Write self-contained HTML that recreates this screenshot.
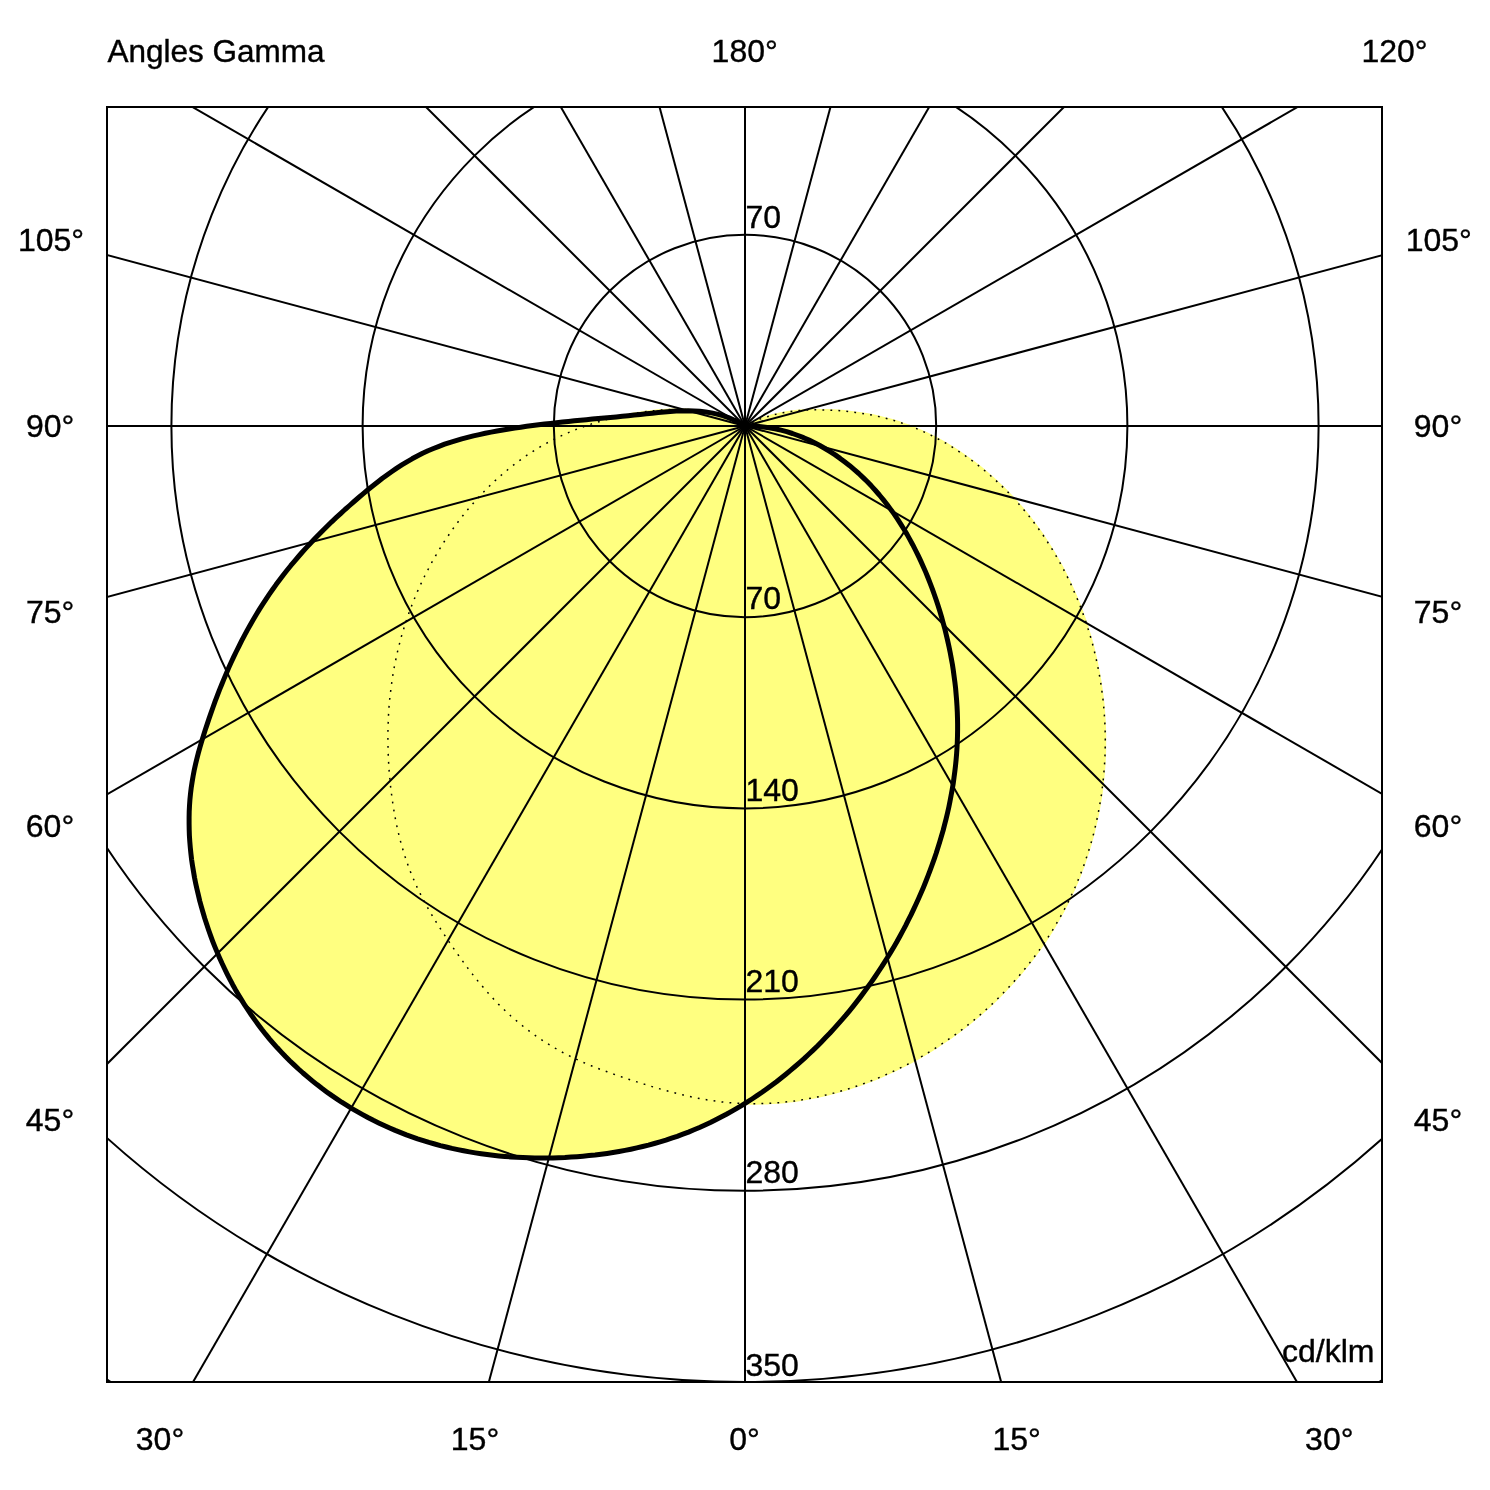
<!DOCTYPE html><html><head><meta charset="utf-8"><style>html,body{margin:0;padding:0;background:#fff;overflow:hidden;width:1490px;height:1490px}svg{display:block;will-change:transform}text{font-family:"Liberation Sans",sans-serif;font-size:32px;fill:#000;stroke:#000;stroke-width:0.4px}</style></head><body>
<svg width="1490" height="1490" viewBox="0 0 1490 1490">
<defs><clipPath id="c"><rect x="107" y="107" width="1275" height="1275"/></clipPath></defs>
<g clip-path="url(#c)">
<path d="M745.0 426.0 L750.1 423.4 L755.3 421.0 L760.5 418.9 L765.8 417.1 L771.2 415.5 L776.6 414.1 L782.1 412.9 L787.6 412.0 L793.2 411.2 L798.8 410.6 L804.4 410.2 L810.0 409.9 L815.6 409.8 L821.3 409.9 L827.0 410.0 L832.7 410.3 L838.3 410.6 L844.0 411.1 L849.6 411.7 L855.3 412.4 L860.9 413.2 L866.5 414.1 L872.1 415.1 L877.6 416.3 L883.1 417.6 L888.6 419.0 L894.0 420.5 L899.4 422.2 L904.8 424.1 L910.1 426.0 L915.3 428.1 L920.5 430.4 L925.7 432.7 L930.8 435.2 L935.8 437.7 L940.8 440.4 L945.8 443.2 L950.6 446.1 L955.4 449.2 L960.2 452.3 L964.9 455.5 L969.5 458.8 L974.0 462.1 L978.5 465.6 L982.9 469.1 L987.2 472.8 L991.5 476.5 L995.7 480.3 L999.8 484.1 L1003.8 488.0 L1007.8 492.0 L1011.7 496.1 L1015.5 500.2 L1019.2 504.4 L1022.9 508.7 L1026.5 513.0 L1030.0 517.4 L1033.4 521.8 L1036.8 526.4 L1040.1 530.9 L1043.3 535.5 L1046.4 540.2 L1049.4 545.0 L1052.4 549.7 L1055.3 554.6 L1058.1 559.4 L1060.9 564.4 L1063.5 569.3 L1066.1 574.4 L1068.6 579.4 L1071.0 584.5 L1073.3 589.7 L1075.6 594.9 L1077.8 600.1 L1079.9 605.3 L1081.9 610.6 L1083.8 615.9 L1085.7 621.3 L1087.4 626.7 L1089.1 632.1 L1090.7 637.5 L1092.3 643.0 L1093.7 648.5 L1095.0 654.0 L1096.3 659.5 L1097.5 665.1 L1098.6 670.7 L1099.6 676.2 L1100.6 681.9 L1101.4 687.5 L1102.2 693.1 L1102.9 698.7 L1103.5 704.4 L1104.0 710.0 L1104.4 715.7 L1104.8 721.4 L1105.0 727.1 L1105.2 732.7 L1105.3 738.4 L1105.2 744.1 L1105.2 749.8 L1105.0 755.4 L1104.7 761.1 L1104.4 766.8 L1103.9 772.4 L1103.4 778.1 L1102.8 783.7 L1102.1 789.3 L1101.4 794.9 L1100.5 800.5 L1099.5 806.1 L1098.5 811.7 L1097.4 817.2 L1096.2 822.8 L1094.9 828.3 L1093.6 833.7 L1092.1 839.2 L1090.6 844.6 L1088.9 850.0 L1087.2 855.4 L1085.4 860.7 L1083.6 866.1 L1081.6 871.3 L1079.6 876.6 L1077.4 881.8 L1075.2 887.0 L1072.9 892.1 L1070.5 897.2 L1068.1 902.2 L1065.5 907.3 L1062.9 912.2 L1060.2 917.1 L1057.4 922.0 L1054.5 926.9 L1051.6 931.7 L1048.6 936.4 L1045.5 941.1 L1042.3 945.7 L1039.1 950.4 L1035.8 954.9 L1032.4 959.4 L1028.9 963.9 L1025.4 968.2 L1021.8 972.6 L1018.1 976.9 L1014.4 981.1 L1010.6 985.3 L1006.8 989.4 L1002.8 993.5 L998.9 997.5 L994.8 1001.5 L990.7 1005.4 L986.5 1009.2 L982.3 1013.0 L978.0 1016.7 L973.7 1020.3 L969.3 1023.9 L964.8 1027.4 L960.3 1030.9 L955.7 1034.3 L951.1 1037.6 L946.5 1040.8 L941.7 1044.0 L937.0 1047.1 L932.2 1050.2 L927.3 1053.2 L922.4 1056.1 L917.5 1058.9 L912.5 1061.6 L907.5 1064.3 L902.4 1066.9 L897.3 1069.4 L892.2 1071.9 L887.0 1074.2 L881.8 1076.5 L876.6 1078.7 L871.3 1080.8 L866.0 1082.8 L860.7 1084.7 L855.3 1086.6 L850.0 1088.4 L844.6 1090.0 L839.1 1091.6 L833.7 1093.1 L828.2 1094.5 L822.7 1095.8 L817.2 1097.0 L811.7 1098.1 L806.2 1099.1 L800.7 1100.0 L795.1 1100.9 L789.5 1101.6 L784.0 1102.2 L778.4 1102.7 L772.8 1103.1 L767.2 1103.4 L761.6 1103.6 L756.0 1103.7 L750.4 1103.7 L744.8 1103.6 L739.1 1103.3 L733.5 1103.0 L727.9 1102.5 L722.4 1102.0 L716.8 1101.3 L711.2 1100.5 L705.6 1099.6 L700.0 1098.6 L694.5 1097.5 L688.9 1096.3 L683.4 1095.0 L677.9 1093.7 L672.4 1092.3 L666.8 1090.8 L661.3 1089.3 L655.9 1087.7 L650.4 1086.1 L644.9 1084.4 L639.5 1082.7 L634.0 1081.0 L628.6 1079.2 L623.2 1077.4 L617.8 1075.6 L612.5 1073.7 L607.1 1071.8 L601.8 1069.9 L596.5 1067.9 L591.3 1065.8 L586.1 1063.6 L580.9 1061.4 L575.8 1059.0 L570.8 1056.6 L565.8 1054.1 L560.8 1051.4 L556.0 1048.7 L551.1 1045.8 L546.4 1042.9 L541.7 1039.8 L537.0 1036.7 L532.5 1033.4 L528.0 1030.1 L523.5 1026.6 L519.2 1023.1 L514.9 1019.5 L510.6 1015.7 L506.5 1011.9 L502.4 1008.0 L498.4 1004.1 L494.5 1000.0 L490.6 995.8 L486.9 991.6 L483.2 987.3 L479.5 983.0 L475.9 978.6 L472.4 974.1 L468.9 969.6 L465.5 965.0 L462.1 960.4 L458.8 955.8 L455.5 951.1 L452.3 946.5 L449.1 941.8 L445.9 937.1 L442.7 932.3 L439.7 927.6 L436.6 922.8 L433.7 918.0 L430.8 913.2 L428.0 908.3 L425.2 903.4 L422.6 898.4 L420.1 893.4 L417.6 888.4 L415.3 883.3 L413.1 878.1 L410.9 872.9 L408.9 867.7 L407.0 862.4 L405.2 857.1 L403.5 851.7 L401.9 846.3 L400.4 840.9 L399.0 835.4 L397.7 829.9 L396.5 824.4 L395.4 818.8 L394.4 813.2 L393.4 807.6 L392.6 802.0 L391.8 796.3 L391.1 790.7 L390.4 785.0 L389.9 779.4 L389.4 773.7 L388.9 768.1 L388.6 762.4 L388.3 756.7 L388.1 751.1 L388.0 745.4 L387.9 739.8 L387.9 734.1 L388.0 728.5 L388.2 722.8 L388.4 717.2 L388.7 711.6 L389.1 705.9 L389.6 700.3 L390.2 694.7 L390.9 689.1 L391.6 683.6 L392.4 678.0 L393.3 672.4 L394.3 666.9 L395.4 661.4 L396.6 655.9 L397.8 650.4 L399.2 644.9 L400.6 639.4 L402.1 634.0 L403.8 628.6 L405.5 623.2 L407.3 617.8 L409.1 612.5 L411.1 607.2 L413.2 601.9 L415.3 596.6 L417.5 591.4 L419.8 586.3 L422.2 581.1 L424.7 576.0 L427.3 571.0 L429.9 565.9 L432.6 561.0 L435.5 556.0 L438.3 551.1 L441.3 546.3 L444.3 541.5 L447.5 536.8 L450.7 532.1 L453.9 527.5 L457.3 522.9 L460.7 518.4 L464.2 514.0 L467.8 509.6 L471.5 505.3 L475.2 501.0 L479.0 496.8 L482.9 492.7 L486.8 488.7 L490.9 484.7 L494.9 480.9 L499.1 477.1 L503.3 473.4 L507.7 469.7 L512.0 466.2 L516.5 462.8 L521.0 459.4 L525.6 456.2 L530.3 453.1 L535.0 450.0 L539.8 447.1 L544.6 444.3 L549.6 441.6 L554.6 439.0 L559.6 436.6 L564.8 434.2 L569.9 432.0 L575.2 429.8 L580.4 427.8 L585.8 425.9 L591.1 424.1 L596.6 422.4 L602.0 420.8 L607.5 419.3 L613.0 417.9 L618.5 416.6 L624.1 415.4 L629.7 414.3 L635.3 413.3 L640.9 412.4 L646.5 411.6 L652.2 410.9 L657.8 410.3 L663.4 409.9 L669.1 409.6 L674.7 409.4 L680.3 409.4 L685.9 409.6 L691.5 409.9 L697.0 410.5 L702.5 411.2 L708.0 412.2 L713.4 413.4 L718.8 414.8 L724.2 416.5 L729.5 418.5 L734.7 420.7 L739.9 423.2 L745.0 426.0 Z" fill="#FFFF80" stroke="#FFFF80" stroke-width="2"/>
<path d="M745.0 426.0 L739.5 422.8 L734.0 420.0 L728.4 417.6 L722.8 415.7 L717.1 414.1 L711.4 412.9 L705.6 412.0 L699.8 411.3 L693.9 411.0 L688.0 410.8 L682.1 410.9 L676.2 411.1 L670.2 411.5 L664.3 412.0 L658.3 412.6 L652.3 413.2 L646.3 413.8 L640.3 414.5 L634.3 415.1 L628.3 415.7 L622.3 416.3 L616.3 416.9 L610.3 417.5 L604.3 418.0 L598.3 418.6 L592.3 419.1 L586.4 419.7 L580.4 420.3 L574.4 420.8 L568.4 421.4 L562.5 422.1 L556.5 422.7 L550.5 423.4 L544.6 424.0 L538.6 424.8 L532.7 425.5 L526.7 426.3 L520.8 427.2 L514.8 428.1 L508.9 429.0 L502.9 430.0 L497.0 431.0 L491.1 432.1 L485.2 433.3 L479.3 434.6 L473.4 435.9 L467.6 437.4 L461.8 438.9 L456.0 440.6 L450.3 442.3 L444.6 444.2 L439.0 446.3 L433.5 448.5 L428.0 450.8 L422.6 453.3 L417.3 456.0 L412.1 458.8 L406.9 461.8 L401.8 464.9 L396.8 468.1 L391.9 471.5 L387.0 475.0 L382.1 478.5 L377.4 482.2 L372.6 486.0 L367.9 489.8 L363.3 493.6 L358.7 497.5 L354.1 501.5 L349.6 505.5 L345.0 509.5 L340.6 513.6 L336.1 517.7 L331.7 521.8 L327.4 526.0 L323.1 530.2 L318.9 534.5 L314.7 538.8 L310.5 543.2 L306.4 547.6 L302.4 552.0 L298.5 556.5 L294.6 561.1 L290.7 565.7 L287.0 570.3 L283.3 575.0 L279.7 579.8 L276.1 584.6 L272.6 589.5 L269.2 594.4 L265.9 599.4 L262.6 604.4 L259.4 609.4 L256.3 614.5 L253.2 619.7 L250.2 624.9 L247.3 630.1 L244.5 635.4 L241.7 640.7 L239.0 646.1 L236.3 651.5 L233.7 656.9 L231.2 662.3 L228.7 667.8 L226.3 673.4 L224.0 678.9 L221.7 684.5 L219.4 690.1 L217.3 695.7 L215.1 701.3 L213.1 707.0 L211.1 712.7 L209.1 718.4 L207.2 724.1 L205.3 729.8 L203.5 735.6 L201.7 741.3 L200.0 747.1 L198.4 752.8 L196.9 758.6 L195.5 764.4 L194.2 770.3 L193.1 776.1 L192.1 782.0 L191.2 787.9 L190.5 793.8 L189.9 799.8 L189.5 805.7 L189.2 811.7 L189.1 817.7 L189.1 823.6 L189.2 829.6 L189.4 835.6 L189.8 841.6 L190.3 847.6 L190.9 853.6 L191.6 859.6 L192.5 865.6 L193.5 871.5 L194.5 877.5 L195.7 883.4 L197.0 889.3 L198.4 895.2 L199.8 901.1 L201.4 906.9 L203.1 912.7 L204.8 918.5 L206.7 924.3 L208.6 930.0 L210.6 935.6 L212.7 941.3 L214.9 946.9 L217.2 952.4 L219.6 957.9 L222.0 963.3 L224.6 968.8 L227.2 974.1 L229.9 979.4 L232.7 984.7 L235.6 989.9 L238.6 995.0 L241.7 1000.1 L244.8 1005.2 L248.1 1010.2 L251.4 1015.1 L254.8 1019.9 L258.3 1024.7 L261.9 1029.5 L265.6 1034.2 L269.4 1038.8 L273.3 1043.3 L277.3 1047.8 L281.3 1052.1 L285.5 1056.5 L289.7 1060.7 L294.1 1064.9 L298.5 1069.0 L303.0 1073.0 L307.6 1076.9 L312.3 1080.8 L317.0 1084.6 L321.8 1088.3 L326.7 1091.9 L331.6 1095.4 L336.7 1098.8 L341.7 1102.2 L346.9 1105.4 L352.0 1108.6 L357.3 1111.6 L362.6 1114.6 L367.9 1117.5 L373.3 1120.3 L378.7 1122.9 L384.2 1125.5 L389.7 1128.0 L395.2 1130.4 L400.8 1132.6 L406.4 1134.8 L412.0 1136.8 L417.6 1138.8 L423.3 1140.6 L429.0 1142.4 L434.7 1144.0 L440.4 1145.6 L446.2 1147.0 L452.0 1148.4 L457.8 1149.6 L463.6 1150.8 L469.5 1151.9 L475.3 1152.9 L481.2 1153.8 L487.1 1154.6 L493.0 1155.3 L498.9 1155.9 L504.9 1156.4 L510.8 1156.9 L516.8 1157.3 L522.8 1157.6 L528.8 1157.8 L534.8 1157.9 L540.8 1158.0 L546.8 1158.0 L552.8 1157.9 L558.9 1157.7 L564.9 1157.5 L571.0 1157.1 L577.0 1156.7 L583.0 1156.2 L589.0 1155.6 L595.1 1155.0 L601.1 1154.2 L607.1 1153.4 L613.0 1152.5 L619.0 1151.5 L625.0 1150.4 L630.9 1149.2 L636.8 1147.9 L642.7 1146.5 L648.5 1145.1 L654.3 1143.5 L660.1 1141.8 L665.9 1140.1 L671.6 1138.2 L677.2 1136.3 L682.9 1134.2 L688.5 1132.1 L694.0 1129.8 L699.5 1127.5 L705.0 1125.0 L710.4 1122.5 L715.8 1119.8 L721.1 1117.1 L726.4 1114.3 L731.6 1111.4 L736.8 1108.4 L741.9 1105.4 L747.0 1102.2 L752.0 1099.0 L757.0 1095.7 L762.0 1092.3 L766.9 1088.8 L771.7 1085.3 L776.5 1081.7 L781.2 1078.0 L785.9 1074.2 L790.5 1070.4 L795.1 1066.5 L799.6 1062.6 L804.1 1058.6 L808.5 1054.5 L812.9 1050.4 L817.2 1046.2 L821.4 1041.9 L825.6 1037.6 L829.8 1033.3 L833.8 1028.9 L837.8 1024.4 L841.8 1019.9 L845.7 1015.4 L849.5 1010.8 L853.3 1006.1 L857.0 1001.4 L860.7 996.6 L864.3 991.8 L867.8 987.0 L871.3 982.1 L874.7 977.2 L878.1 972.2 L881.4 967.2 L884.6 962.1 L887.8 957.0 L890.9 951.9 L894.0 946.7 L897.0 941.5 L899.9 936.2 L902.8 930.9 L905.6 925.6 L908.3 920.2 L911.0 914.9 L913.6 909.4 L916.1 904.0 L918.6 898.5 L921.0 893.0 L923.4 887.4 L925.7 881.8 L927.9 876.2 L930.0 870.6 L932.1 864.9 L934.1 859.3 L936.1 853.5 L937.9 847.8 L939.7 842.1 L941.4 836.3 L943.1 830.5 L944.6 824.7 L946.1 818.9 L947.5 813.0 L948.8 807.2 L950.0 801.3 L951.1 795.4 L952.2 789.5 L953.2 783.6 L954.0 777.7 L954.8 771.7 L955.5 765.8 L956.1 759.8 L956.6 753.9 L957.0 747.9 L957.3 741.9 L957.5 736.0 L957.6 730.0 L957.6 724.0 L957.5 718.1 L957.3 712.1 L957.0 706.1 L956.6 700.1 L956.1 694.2 L955.6 688.2 L954.9 682.3 L954.1 676.3 L953.3 670.4 L952.4 664.4 L951.3 658.5 L950.2 652.6 L949.0 646.7 L947.7 640.9 L946.3 635.0 L944.9 629.2 L943.3 623.3 L941.7 617.5 L940.0 611.7 L938.2 606.0 L936.3 600.2 L934.3 594.5 L932.3 588.8 L930.1 583.1 L927.9 577.5 L925.6 571.9 L923.2 566.4 L920.7 560.9 L918.1 555.4 L915.4 550.0 L912.7 544.7 L909.8 539.4 L906.9 534.1 L903.8 529.0 L900.6 523.9 L897.4 518.9 L894.0 513.9 L890.5 509.1 L886.9 504.3 L883.2 499.6 L879.4 495.0 L875.5 490.5 L871.5 486.1 L867.4 481.8 L863.1 477.6 L858.8 473.5 L854.3 469.6 L849.7 465.7 L844.9 462.0 L840.1 458.4 L835.2 454.9 L830.1 451.6 L825.0 448.5 L819.8 445.5 L814.5 442.7 L809.1 440.1 L803.6 437.7 L798.0 435.5 L792.4 433.5 L786.7 431.7 L780.9 430.2 L775.0 428.8 L769.1 427.7 L763.2 426.9 L757.2 426.3 L751.1 426.0 L745.0 426.0 Z" fill="#FFFF80"/>
<g fill="none" stroke="#000" stroke-width="2">
<circle cx="745" cy="426" r="191.2"/>
<circle cx="745" cy="426" r="382.4"/>
<circle cx="745" cy="426" r="573.6"/>
<circle cx="745" cy="426" r="764.8"/>
<circle cx="745" cy="426" r="956"/>
<circle cx="745" cy="426" r="1147.2"/>
<line x1="745" y1="426" x2="745.0" y2="2026.0"/>
<line x1="745" y1="426" x2="1159.1" y2="1971.5"/>
<line x1="745" y1="426" x2="1545.0" y2="1811.6"/>
<line x1="745" y1="426" x2="1876.4" y2="1557.4"/>
<line x1="745" y1="426" x2="2130.6" y2="1226.0"/>
<line x1="745" y1="426" x2="2290.5" y2="840.1"/>
<line x1="745" y1="426" x2="2345.0" y2="426.0"/>
<line x1="745" y1="426" x2="2290.5" y2="11.9"/>
<line x1="745" y1="426" x2="2130.6" y2="-374.0"/>
<line x1="745" y1="426" x2="1876.4" y2="-705.4"/>
<line x1="745" y1="426" x2="1545.0" y2="-959.6"/>
<line x1="745" y1="426" x2="1159.1" y2="-1119.5"/>
<line x1="745" y1="426" x2="745.0" y2="-1174.0"/>
<line x1="745" y1="426" x2="330.9" y2="-1119.5"/>
<line x1="745" y1="426" x2="-55.0" y2="-959.6"/>
<line x1="745" y1="426" x2="-386.4" y2="-705.4"/>
<line x1="745" y1="426" x2="-640.6" y2="-374.0"/>
<line x1="745" y1="426" x2="-800.5" y2="11.9"/>
<line x1="745" y1="426" x2="-855.0" y2="426.0"/>
<line x1="745" y1="426" x2="-800.5" y2="840.1"/>
<line x1="745" y1="426" x2="-640.6" y2="1226.0"/>
<line x1="745" y1="426" x2="-386.4" y2="1557.4"/>
<line x1="745" y1="426" x2="-55.0" y2="1811.6"/>
<line x1="745" y1="426" x2="330.9" y2="1971.5"/>
</g>
<path d="M745.0 426.0 L750.1 423.4 L755.3 421.0 L760.5 418.9 L765.8 417.1 L771.2 415.5 L776.6 414.1 L782.1 412.9 L787.6 412.0 L793.2 411.2 L798.8 410.6 L804.4 410.2 L810.0 409.9 L815.6 409.8 L821.3 409.9 L827.0 410.0 L832.7 410.3 L838.3 410.6 L844.0 411.1 L849.6 411.7 L855.3 412.4 L860.9 413.2 L866.5 414.1 L872.1 415.1 L877.6 416.3 L883.1 417.6 L888.6 419.0 L894.0 420.5 L899.4 422.2 L904.8 424.1 L910.1 426.0 L915.3 428.1 L920.5 430.4 L925.7 432.7 L930.8 435.2 L935.8 437.7 L940.8 440.4 L945.8 443.2 L950.6 446.1 L955.4 449.2 L960.2 452.3 L964.9 455.5 L969.5 458.8 L974.0 462.1 L978.5 465.6 L982.9 469.1 L987.2 472.8 L991.5 476.5 L995.7 480.3 L999.8 484.1 L1003.8 488.0 L1007.8 492.0 L1011.7 496.1 L1015.5 500.2 L1019.2 504.4 L1022.9 508.7 L1026.5 513.0 L1030.0 517.4 L1033.4 521.8 L1036.8 526.4 L1040.1 530.9 L1043.3 535.5 L1046.4 540.2 L1049.4 545.0 L1052.4 549.7 L1055.3 554.6 L1058.1 559.4 L1060.9 564.4 L1063.5 569.3 L1066.1 574.4 L1068.6 579.4 L1071.0 584.5 L1073.3 589.7 L1075.6 594.9 L1077.8 600.1 L1079.9 605.3 L1081.9 610.6 L1083.8 615.9 L1085.7 621.3 L1087.4 626.7 L1089.1 632.1 L1090.7 637.5 L1092.3 643.0 L1093.7 648.5 L1095.0 654.0 L1096.3 659.5 L1097.5 665.1 L1098.6 670.7 L1099.6 676.2 L1100.6 681.9 L1101.4 687.5 L1102.2 693.1 L1102.9 698.7 L1103.5 704.4 L1104.0 710.0 L1104.4 715.7 L1104.8 721.4 L1105.0 727.1 L1105.2 732.7 L1105.3 738.4 L1105.2 744.1 L1105.2 749.8 L1105.0 755.4 L1104.7 761.1 L1104.4 766.8 L1103.9 772.4 L1103.4 778.1 L1102.8 783.7 L1102.1 789.3 L1101.4 794.9 L1100.5 800.5 L1099.5 806.1 L1098.5 811.7 L1097.4 817.2 L1096.2 822.8 L1094.9 828.3 L1093.6 833.7 L1092.1 839.2 L1090.6 844.6 L1088.9 850.0 L1087.2 855.4 L1085.4 860.7 L1083.6 866.1 L1081.6 871.3 L1079.6 876.6 L1077.4 881.8 L1075.2 887.0 L1072.9 892.1 L1070.5 897.2 L1068.1 902.2 L1065.5 907.3 L1062.9 912.2 L1060.2 917.1 L1057.4 922.0 L1054.5 926.9 L1051.6 931.7 L1048.6 936.4 L1045.5 941.1 L1042.3 945.7 L1039.1 950.4 L1035.8 954.9 L1032.4 959.4 L1028.9 963.9 L1025.4 968.2 L1021.8 972.6 L1018.1 976.9 L1014.4 981.1 L1010.6 985.3 L1006.8 989.4 L1002.8 993.5 L998.9 997.5 L994.8 1001.5 L990.7 1005.4 L986.5 1009.2 L982.3 1013.0 L978.0 1016.7 L973.7 1020.3 L969.3 1023.9 L964.8 1027.4 L960.3 1030.9 L955.7 1034.3 L951.1 1037.6 L946.5 1040.8 L941.7 1044.0 L937.0 1047.1 L932.2 1050.2 L927.3 1053.2 L922.4 1056.1 L917.5 1058.9 L912.5 1061.6 L907.5 1064.3 L902.4 1066.9 L897.3 1069.4 L892.2 1071.9 L887.0 1074.2 L881.8 1076.5 L876.6 1078.7 L871.3 1080.8 L866.0 1082.8 L860.7 1084.7 L855.3 1086.6 L850.0 1088.4 L844.6 1090.0 L839.1 1091.6 L833.7 1093.1 L828.2 1094.5 L822.7 1095.8 L817.2 1097.0 L811.7 1098.1 L806.2 1099.1 L800.7 1100.0 L795.1 1100.9 L789.5 1101.6 L784.0 1102.2 L778.4 1102.7 L772.8 1103.1 L767.2 1103.4 L761.6 1103.6 L756.0 1103.7 L750.4 1103.7 L744.8 1103.6 L739.1 1103.3 L733.5 1103.0 L727.9 1102.5 L722.4 1102.0 L716.8 1101.3 L711.2 1100.5 L705.6 1099.6 L700.0 1098.6 L694.5 1097.5 L688.9 1096.3 L683.4 1095.0 L677.9 1093.7 L672.4 1092.3 L666.8 1090.8 L661.3 1089.3 L655.9 1087.7 L650.4 1086.1 L644.9 1084.4 L639.5 1082.7 L634.0 1081.0 L628.6 1079.2 L623.2 1077.4 L617.8 1075.6 L612.5 1073.7 L607.1 1071.8 L601.8 1069.9 L596.5 1067.9 L591.3 1065.8 L586.1 1063.6 L580.9 1061.4 L575.8 1059.0 L570.8 1056.6 L565.8 1054.1 L560.8 1051.4 L556.0 1048.7 L551.1 1045.8 L546.4 1042.9 L541.7 1039.8 L537.0 1036.7 L532.5 1033.4 L528.0 1030.1 L523.5 1026.6 L519.2 1023.1 L514.9 1019.5 L510.6 1015.7 L506.5 1011.9 L502.4 1008.0 L498.4 1004.1 L494.5 1000.0 L490.6 995.8 L486.9 991.6 L483.2 987.3 L479.5 983.0 L475.9 978.6 L472.4 974.1 L468.9 969.6 L465.5 965.0 L462.1 960.4 L458.8 955.8 L455.5 951.1 L452.3 946.5 L449.1 941.8 L445.9 937.1 L442.7 932.3 L439.7 927.6 L436.6 922.8 L433.7 918.0 L430.8 913.2 L428.0 908.3 L425.2 903.4 L422.6 898.4 L420.1 893.4 L417.6 888.4 L415.3 883.3 L413.1 878.1 L410.9 872.9 L408.9 867.7 L407.0 862.4 L405.2 857.1 L403.5 851.7 L401.9 846.3 L400.4 840.9 L399.0 835.4 L397.7 829.9 L396.5 824.4 L395.4 818.8 L394.4 813.2 L393.4 807.6 L392.6 802.0 L391.8 796.3 L391.1 790.7 L390.4 785.0 L389.9 779.4 L389.4 773.7 L388.9 768.1 L388.6 762.4 L388.3 756.7 L388.1 751.1 L388.0 745.4 L387.9 739.8 L387.9 734.1 L388.0 728.5 L388.2 722.8 L388.4 717.2 L388.7 711.6 L389.1 705.9 L389.6 700.3 L390.2 694.7 L390.9 689.1 L391.6 683.6 L392.4 678.0 L393.3 672.4 L394.3 666.9 L395.4 661.4 L396.6 655.9 L397.8 650.4 L399.2 644.9 L400.6 639.4 L402.1 634.0 L403.8 628.6 L405.5 623.2 L407.3 617.8 L409.1 612.5 L411.1 607.2 L413.2 601.9 L415.3 596.6 L417.5 591.4 L419.8 586.3 L422.2 581.1 L424.7 576.0 L427.3 571.0 L429.9 565.9 L432.6 561.0 L435.5 556.0 L438.3 551.1 L441.3 546.3 L444.3 541.5 L447.5 536.8 L450.7 532.1 L453.9 527.5 L457.3 522.9 L460.7 518.4 L464.2 514.0 L467.8 509.6 L471.5 505.3 L475.2 501.0 L479.0 496.8 L482.9 492.7 L486.8 488.7 L490.9 484.7 L494.9 480.9 L499.1 477.1 L503.3 473.4 L507.7 469.7 L512.0 466.2 L516.5 462.8 L521.0 459.4 L525.6 456.2 L530.3 453.1 L535.0 450.0 L539.8 447.1 L544.6 444.3 L549.6 441.6 L554.6 439.0 L559.6 436.6 L564.8 434.2 L569.9 432.0 L575.2 429.8 L580.4 427.8 L585.8 425.9 L591.1 424.1 L596.6 422.4 L602.0 420.8 L607.5 419.3 L613.0 417.9 L618.5 416.6 L624.1 415.4 L629.7 414.3 L635.3 413.3 L640.9 412.4 L646.5 411.6 L652.2 410.9 L657.8 410.3 L663.4 409.9 L669.1 409.6 L674.7 409.4 L680.3 409.4 L685.9 409.6 L691.5 409.9 L697.0 410.5 L702.5 411.2 L708.0 412.2 L713.4 413.4 L718.8 414.8 L724.2 416.5 L729.5 418.5 L734.7 420.7 L739.9 423.2 L745.0 426.0" fill="none" stroke="#000" stroke-width="1.5" stroke-dasharray="1.8 6.2"/>
<path d="M745.0 426.0 L739.5 422.8 L734.0 420.0 L728.4 417.6 L722.8 415.7 L717.1 414.1 L711.4 412.9 L705.6 412.0 L699.8 411.3 L693.9 411.0 L688.0 410.8 L682.1 410.9 L676.2 411.1 L670.2 411.5 L664.3 412.0 L658.3 412.6 L652.3 413.2 L646.3 413.8 L640.3 414.5 L634.3 415.1 L628.3 415.7 L622.3 416.3 L616.3 416.9 L610.3 417.5 L604.3 418.0 L598.3 418.6 L592.3 419.1 L586.4 419.7 L580.4 420.3 L574.4 420.8 L568.4 421.4 L562.5 422.1 L556.5 422.7 L550.5 423.4 L544.6 424.0 L538.6 424.8 L532.7 425.5 L526.7 426.3 L520.8 427.2 L514.8 428.1 L508.9 429.0 L502.9 430.0 L497.0 431.0 L491.1 432.1 L485.2 433.3 L479.3 434.6 L473.4 435.9 L467.6 437.4 L461.8 438.9 L456.0 440.6 L450.3 442.3 L444.6 444.2 L439.0 446.3 L433.5 448.5 L428.0 450.8 L422.6 453.3 L417.3 456.0 L412.1 458.8 L406.9 461.8 L401.8 464.9 L396.8 468.1 L391.9 471.5 L387.0 475.0 L382.1 478.5 L377.4 482.2 L372.6 486.0 L367.9 489.8 L363.3 493.6 L358.7 497.5 L354.1 501.5 L349.6 505.5 L345.0 509.5 L340.6 513.6 L336.1 517.7 L331.7 521.8 L327.4 526.0 L323.1 530.2 L318.9 534.5 L314.7 538.8 L310.5 543.2 L306.4 547.6 L302.4 552.0 L298.5 556.5 L294.6 561.1 L290.7 565.7 L287.0 570.3 L283.3 575.0 L279.7 579.8 L276.1 584.6 L272.6 589.5 L269.2 594.4 L265.9 599.4 L262.6 604.4 L259.4 609.4 L256.3 614.5 L253.2 619.7 L250.2 624.9 L247.3 630.1 L244.5 635.4 L241.7 640.7 L239.0 646.1 L236.3 651.5 L233.7 656.9 L231.2 662.3 L228.7 667.8 L226.3 673.4 L224.0 678.9 L221.7 684.5 L219.4 690.1 L217.3 695.7 L215.1 701.3 L213.1 707.0 L211.1 712.7 L209.1 718.4 L207.2 724.1 L205.3 729.8 L203.5 735.6 L201.7 741.3 L200.0 747.1 L198.4 752.8 L196.9 758.6 L195.5 764.4 L194.2 770.3 L193.1 776.1 L192.1 782.0 L191.2 787.9 L190.5 793.8 L189.9 799.8 L189.5 805.7 L189.2 811.7 L189.1 817.7 L189.1 823.6 L189.2 829.6 L189.4 835.6 L189.8 841.6 L190.3 847.6 L190.9 853.6 L191.6 859.6 L192.5 865.6 L193.5 871.5 L194.5 877.5 L195.7 883.4 L197.0 889.3 L198.4 895.2 L199.8 901.1 L201.4 906.9 L203.1 912.7 L204.8 918.5 L206.7 924.3 L208.6 930.0 L210.6 935.6 L212.7 941.3 L214.9 946.9 L217.2 952.4 L219.6 957.9 L222.0 963.3 L224.6 968.8 L227.2 974.1 L229.9 979.4 L232.7 984.7 L235.6 989.9 L238.6 995.0 L241.7 1000.1 L244.8 1005.2 L248.1 1010.2 L251.4 1015.1 L254.8 1019.9 L258.3 1024.7 L261.9 1029.5 L265.6 1034.2 L269.4 1038.8 L273.3 1043.3 L277.3 1047.8 L281.3 1052.1 L285.5 1056.5 L289.7 1060.7 L294.1 1064.9 L298.5 1069.0 L303.0 1073.0 L307.6 1076.9 L312.3 1080.8 L317.0 1084.6 L321.8 1088.3 L326.7 1091.9 L331.6 1095.4 L336.7 1098.8 L341.7 1102.2 L346.9 1105.4 L352.0 1108.6 L357.3 1111.6 L362.6 1114.6 L367.9 1117.5 L373.3 1120.3 L378.7 1122.9 L384.2 1125.5 L389.7 1128.0 L395.2 1130.4 L400.8 1132.6 L406.4 1134.8 L412.0 1136.8 L417.6 1138.8 L423.3 1140.6 L429.0 1142.4 L434.7 1144.0 L440.4 1145.6 L446.2 1147.0 L452.0 1148.4 L457.8 1149.6 L463.6 1150.8 L469.5 1151.9 L475.3 1152.9 L481.2 1153.8 L487.1 1154.6 L493.0 1155.3 L498.9 1155.9 L504.9 1156.4 L510.8 1156.9 L516.8 1157.3 L522.8 1157.6 L528.8 1157.8 L534.8 1157.9 L540.8 1158.0 L546.8 1158.0 L552.8 1157.9 L558.9 1157.7 L564.9 1157.5 L571.0 1157.1 L577.0 1156.7 L583.0 1156.2 L589.0 1155.6 L595.1 1155.0 L601.1 1154.2 L607.1 1153.4 L613.0 1152.5 L619.0 1151.5 L625.0 1150.4 L630.9 1149.2 L636.8 1147.9 L642.7 1146.5 L648.5 1145.1 L654.3 1143.5 L660.1 1141.8 L665.9 1140.1 L671.6 1138.2 L677.2 1136.3 L682.9 1134.2 L688.5 1132.1 L694.0 1129.8 L699.5 1127.5 L705.0 1125.0 L710.4 1122.5 L715.8 1119.8 L721.1 1117.1 L726.4 1114.3 L731.6 1111.4 L736.8 1108.4 L741.9 1105.4 L747.0 1102.2 L752.0 1099.0 L757.0 1095.7 L762.0 1092.3 L766.9 1088.8 L771.7 1085.3 L776.5 1081.7 L781.2 1078.0 L785.9 1074.2 L790.5 1070.4 L795.1 1066.5 L799.6 1062.6 L804.1 1058.6 L808.5 1054.5 L812.9 1050.4 L817.2 1046.2 L821.4 1041.9 L825.6 1037.6 L829.8 1033.3 L833.8 1028.9 L837.8 1024.4 L841.8 1019.9 L845.7 1015.4 L849.5 1010.8 L853.3 1006.1 L857.0 1001.4 L860.7 996.6 L864.3 991.8 L867.8 987.0 L871.3 982.1 L874.7 977.2 L878.1 972.2 L881.4 967.2 L884.6 962.1 L887.8 957.0 L890.9 951.9 L894.0 946.7 L897.0 941.5 L899.9 936.2 L902.8 930.9 L905.6 925.6 L908.3 920.2 L911.0 914.9 L913.6 909.4 L916.1 904.0 L918.6 898.5 L921.0 893.0 L923.4 887.4 L925.7 881.8 L927.9 876.2 L930.0 870.6 L932.1 864.9 L934.1 859.3 L936.1 853.5 L937.9 847.8 L939.7 842.1 L941.4 836.3 L943.1 830.5 L944.6 824.7 L946.1 818.9 L947.5 813.0 L948.8 807.2 L950.0 801.3 L951.1 795.4 L952.2 789.5 L953.2 783.6 L954.0 777.7 L954.8 771.7 L955.5 765.8 L956.1 759.8 L956.6 753.9 L957.0 747.9 L957.3 741.9 L957.5 736.0 L957.6 730.0 L957.6 724.0 L957.5 718.1 L957.3 712.1 L957.0 706.1 L956.6 700.1 L956.1 694.2 L955.6 688.2 L954.9 682.3 L954.1 676.3 L953.3 670.4 L952.4 664.4 L951.3 658.5 L950.2 652.6 L949.0 646.7 L947.7 640.9 L946.3 635.0 L944.9 629.2 L943.3 623.3 L941.7 617.5 L940.0 611.7 L938.2 606.0 L936.3 600.2 L934.3 594.5 L932.3 588.8 L930.1 583.1 L927.9 577.5 L925.6 571.9 L923.2 566.4 L920.7 560.9 L918.1 555.4 L915.4 550.0 L912.7 544.7 L909.8 539.4 L906.9 534.1 L903.8 529.0 L900.6 523.9 L897.4 518.9 L894.0 513.9 L890.5 509.1 L886.9 504.3 L883.2 499.6 L879.4 495.0 L875.5 490.5 L871.5 486.1 L867.4 481.8 L863.1 477.6 L858.8 473.5 L854.3 469.6 L849.7 465.7 L844.9 462.0 L840.1 458.4 L835.2 454.9 L830.1 451.6 L825.0 448.5 L819.8 445.5 L814.5 442.7 L809.1 440.1 L803.6 437.7 L798.0 435.5 L792.4 433.5 L786.7 431.7 L780.9 430.2 L775.0 428.8 L769.1 427.7 L763.2 426.9 L757.2 426.3 L751.1 426.0 L745.0 426.0" fill="none" stroke="#000" stroke-width="5" stroke-linejoin="round"/>
</g>
<rect x="107" y="107" width="1275" height="1275" fill="none" stroke="#000" stroke-width="2"/>
<text x="107.5" y="61.5" text-anchor="start" style="font-size:31.5px">Angles Gamma</text>
<text x="744.7" y="61.5" text-anchor="middle">180°</text>
<text x="1394.5" y="61.5" text-anchor="middle">120°</text>
<text x="51" y="251" text-anchor="middle">105°</text>
<text x="1438.8" y="251" text-anchor="middle">105°</text>
<text x="50.2" y="437.2" text-anchor="middle">90°</text>
<text x="1438" y="437.2" text-anchor="middle">90°</text>
<text x="50.2" y="623.2" text-anchor="middle">75°</text>
<text x="1438" y="623.2" text-anchor="middle">75°</text>
<text x="50" y="837" text-anchor="middle">60°</text>
<text x="1438" y="837" text-anchor="middle">60°</text>
<text x="50" y="1130.7" text-anchor="middle">45°</text>
<text x="1438" y="1130.7" text-anchor="middle">45°</text>
<text x="160" y="1449.8" text-anchor="middle">30°</text>
<text x="475" y="1449.8" text-anchor="middle">15°</text>
<text x="744.5" y="1449.8" text-anchor="middle">0°</text>
<text x="1016.6" y="1449.8" text-anchor="middle">15°</text>
<text x="1329.3" y="1449.8" text-anchor="middle">30°</text>
<text x="745.5" y="227.5" text-anchor="start">70</text>
<text x="745.5" y="609.4" text-anchor="start">70</text>
<text x="745.5" y="800.6" text-anchor="start">140</text>
<text x="745.5" y="991.8" text-anchor="start">210</text>
<text x="745.5" y="1183" text-anchor="start">280</text>
<text x="745.5" y="1375.7" text-anchor="start">350</text>
<text x="1374.4" y="1362.3" text-anchor="end" style="font-size:32px">cd/klm</text>
</svg></body></html>
